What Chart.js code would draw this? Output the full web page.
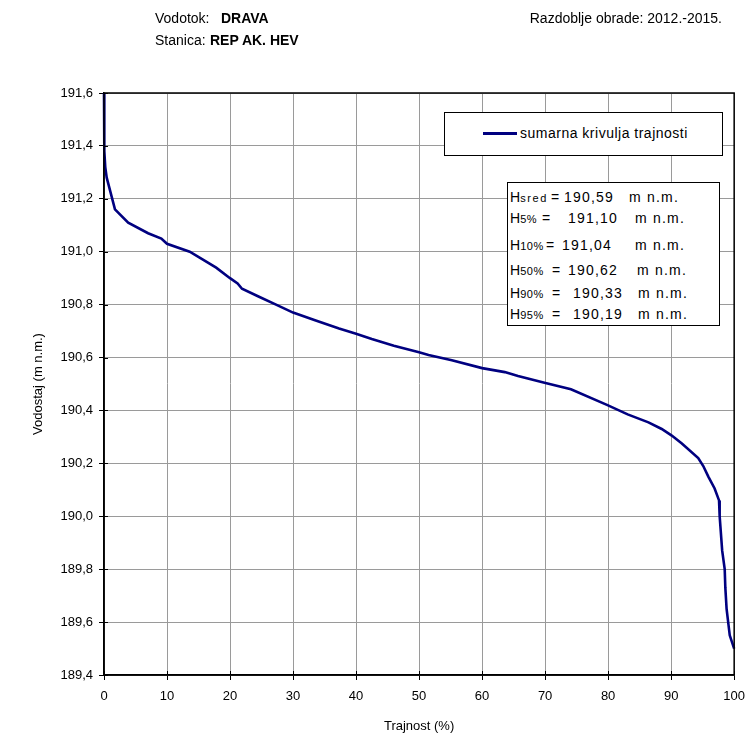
<!DOCTYPE html>
<html>
<head>
<meta charset="utf-8">
<script src="https://cdn.jsdelivr.net/npm/chart.js@4/dist/chart.umd.min.js"></script>
<style>
  html, body { margin: 0; padding: 0; background: #fff; }
  #wrap { position: relative; width: 754px; height: 736px; font-family: "Liberation Sans", Arial, sans-serif; color: #000; }
  #c { position: absolute; left: 0; top: 0; }
  .t { position: absolute; white-space: pre; line-height: 1; }
  .box { position: absolute; background: #fff; border: 1px solid #000; box-sizing: border-box; }
  .sub { font-size: 11px; letter-spacing: 0.6px; }
</style>
</head>
<body>
<div id="wrap">
  <canvas id="c" width="754" height="736"></canvas>
</div>
<script>
// ---- data ----
const durationPct = [0, 0.05, 0.2, 0.43, 1.74, 3.84, 7.0, 9.1, 10, 13.6, 15.7, 17.8, 20, 21.2, 21.9, 24.6, 27.3, 30, 33.6, 37.3, 40, 42.5, 46, 50, 51.5, 55.2, 60, 63.6, 65.7, 69.9, 74.1, 79.9, 83.1, 86.4, 88.5, 90.1, 91.7, 94.3, 95.1, 95.9, 96.9, 97.6, 97.7, 98.1, 98.5, 98.6, 98.8, 99.3, 100];
const waterLevel  = [191.6, 191.38, 191.32, 191.28, 191.16, 191.11, 191.07, 191.05, 191.03, 191.0, 190.97, 190.94, 190.90, 190.88, 190.86, 190.83, 190.80, 190.77, 190.74, 190.71, 190.69, 190.67, 190.645, 190.62, 190.61, 190.59, 190.56, 190.545, 190.53, 190.505, 190.48, 190.42, 190.385, 190.355, 190.33, 190.305, 190.275, 190.22, 190.19, 190.15, 190.105, 190.06, 190.0, 189.87, 189.80, 189.73, 189.65, 189.55, 189.50];
const seriesName = 'sumarna krivulja trajnosti';
const statSubs   = ['sred', '5%', '10%', '50%', '90%', '95%'];
const statValues = ['190,59', '191,10', '191,04', '190,62', '190,33', '190,19'];
const statUnit   = 'm n.m.';
const xTitle = 'Trajnost (%)';
const yTitle = 'Vodostaj (m n.m.)';
const headerLabels = ['Vodotok:', 'Stanica:'];
const headerValues = ['DRAVA', 'REP AK. HEV'];
const periodText = 'Razdoblje obrade: 2012.-2015.';

// ---- overlays (real text) ----
const wrap = document.getElementById('wrap');
function addText(html, x, y, css) {
  const d = document.createElement('div');
  d.className = 't';
  d.innerHTML = html;
  d.style.left = x + 'px';
  d.style.top = y + 'px';
  Object.assign(d.style, css || {});
  wrap.appendChild(d);
  return d;
}
const hdrCss = { fontSize: '14px' };
addText(headerLabels[0], 155, 11, hdrCss);
addText('<b>' + headerValues[0] + '</b>', 221, 11, hdrCss);
addText(headerLabels[1], 155, 33, hdrCss);
addText('<b>' + headerValues[1] + '</b>', 210, 33, hdrCss);
const per = addText(periodText, 0, 11, hdrCss);
per.style.left = 'auto';
per.style.right = (754 - 722) + 'px';

// legend box
const leg = document.createElement('div');
leg.className = 'box';
Object.assign(leg.style, { left: '444px', top: '112px', width: '279px', height: '44px' });
wrap.appendChild(leg);
const legLine = document.createElement('div');
Object.assign(legLine.style, { position: 'absolute', left: '483px', top: '132px', width: '34px', height: '3px', background: '#000080' });
wrap.appendChild(legLine);
addText(seriesName, 520, 126, { fontSize: '14px', letterSpacing: '0.5px' });

// stats box
const sb = document.createElement('div');
sb.className = 'box';
Object.assign(sb.style, { left: '507px', top: '182px', width: '213px', height: '144px' });
wrap.appendChild(sb);
const rowY  = [190, 211, 238, 263, 286, 307];
const eqX   = [551, 542, 546, 552, 552, 552];
const valX  = [564, 568, 562, 568, 573, 573];
const unitX = [629, 635, 635, 637, 638, 638];
const subSpacing = ['1.6px', '0.6px', '0.6px', '0.6px', '0.6px', '0.6px'];
const sCss = { fontSize: '14px', letterSpacing: '1.2px' };
for (let i = 0; i < statSubs.length; i++) {
  addText('H<span class="sub" style="letter-spacing:' + subSpacing[i] + '">' + statSubs[i] + '</span>', 510, rowY[i], { fontSize: '14px' });
  addText('=', eqX[i], rowY[i], { fontSize: '14px' });
  addText(statValues[i], valX[i], rowY[i], sCss);
  addText(statUnit, unitX[i], rowY[i], sCss);
}

// ---- chart ----
const pts = durationPct.map((p, i) => ({ x: p, y: waterLevel[i] }));
const font = { family: '"Liberation Sans", Arial, sans-serif', size: 13 };

const frame = {
  id: 'frame',
  afterDraw(chart) {
    const { ctx, chartArea: a } = chart;
    ctx.save();
    ctx.strokeStyle = '#000';
    ctx.lineWidth = 1;
    ctx.beginPath();
    chart.scales.y.ticks.forEach((t, i) => {
      const y = Math.round(chart.scales.y.getPixelForTick(i)) + 0.5;
      ctx.moveTo(a.left, y); ctx.lineTo(a.left + 4, y);
    });
    chart.scales.x.ticks.forEach((t, i) => {
      const x = Math.round(chart.scales.x.getPixelForTick(i)) + 0.5;
      ctx.moveTo(x, a.bottom); ctx.lineTo(x, a.bottom - 4);
    });
    ctx.stroke();
    ctx.lineWidth = 1.5;
    ctx.strokeRect(a.left, a.top, a.right - a.left, a.bottom - a.top);
    ctx.restore();
  }
};

new Chart(document.getElementById('c'), {
  type: 'line',
  data: {
    datasets: [{
      label: seriesName,
      data: pts,
      borderColor: '#000080',
      borderWidth: 2.6,
      pointRadius: 0,
      tension: 0,
      fill: false,
      clip: 2
    }]
  },
  options: {
    responsive: false,
    animation: false,
    devicePixelRatio: 1,
    layout: { padding: { top: 93, right: 17, left: 0, bottom: 0 } },
    plugins: { legend: { display: false }, tooltip: { enabled: false } },
    scales: {
      x: {
        type: 'linear', min: 0, max: 100,
        ticks: { stepSize: 10, color: '#000', font, padding: 9, maxRotation: 0 },
        grid: { color: '#9a9a9a', tickColor: '#000', tickLength: 5, lineWidth: 1 },
        border: { color: '#000', width: 1.5 },
        title: { display: true, text: xTitle, color: '#000', font, padding: { top: 0, bottom: 2 } },
        afterFit(s) { s.height = 61; }
      },
      y: {
        type: 'linear', min: 189.4, max: 191.6,
        ticks: {
          stepSize: 0.2, color: '#000', font, padding: 6,
          callback: v => v.toFixed(1).replace('.', ',')
        },
        grid: { color: '#9a9a9a', tickColor: '#000', tickLength: 5, lineWidth: 1 },
        border: { color: '#000', width: 1.5 },
        title: { display: true, text: yTitle, color: '#000', font, padding: { top: 31, bottom: 0 } },
        afterFit(s) { s.width = 104; }
      }
    }
  },
  plugins: [frame]
});
</script>
</body>
</html>
